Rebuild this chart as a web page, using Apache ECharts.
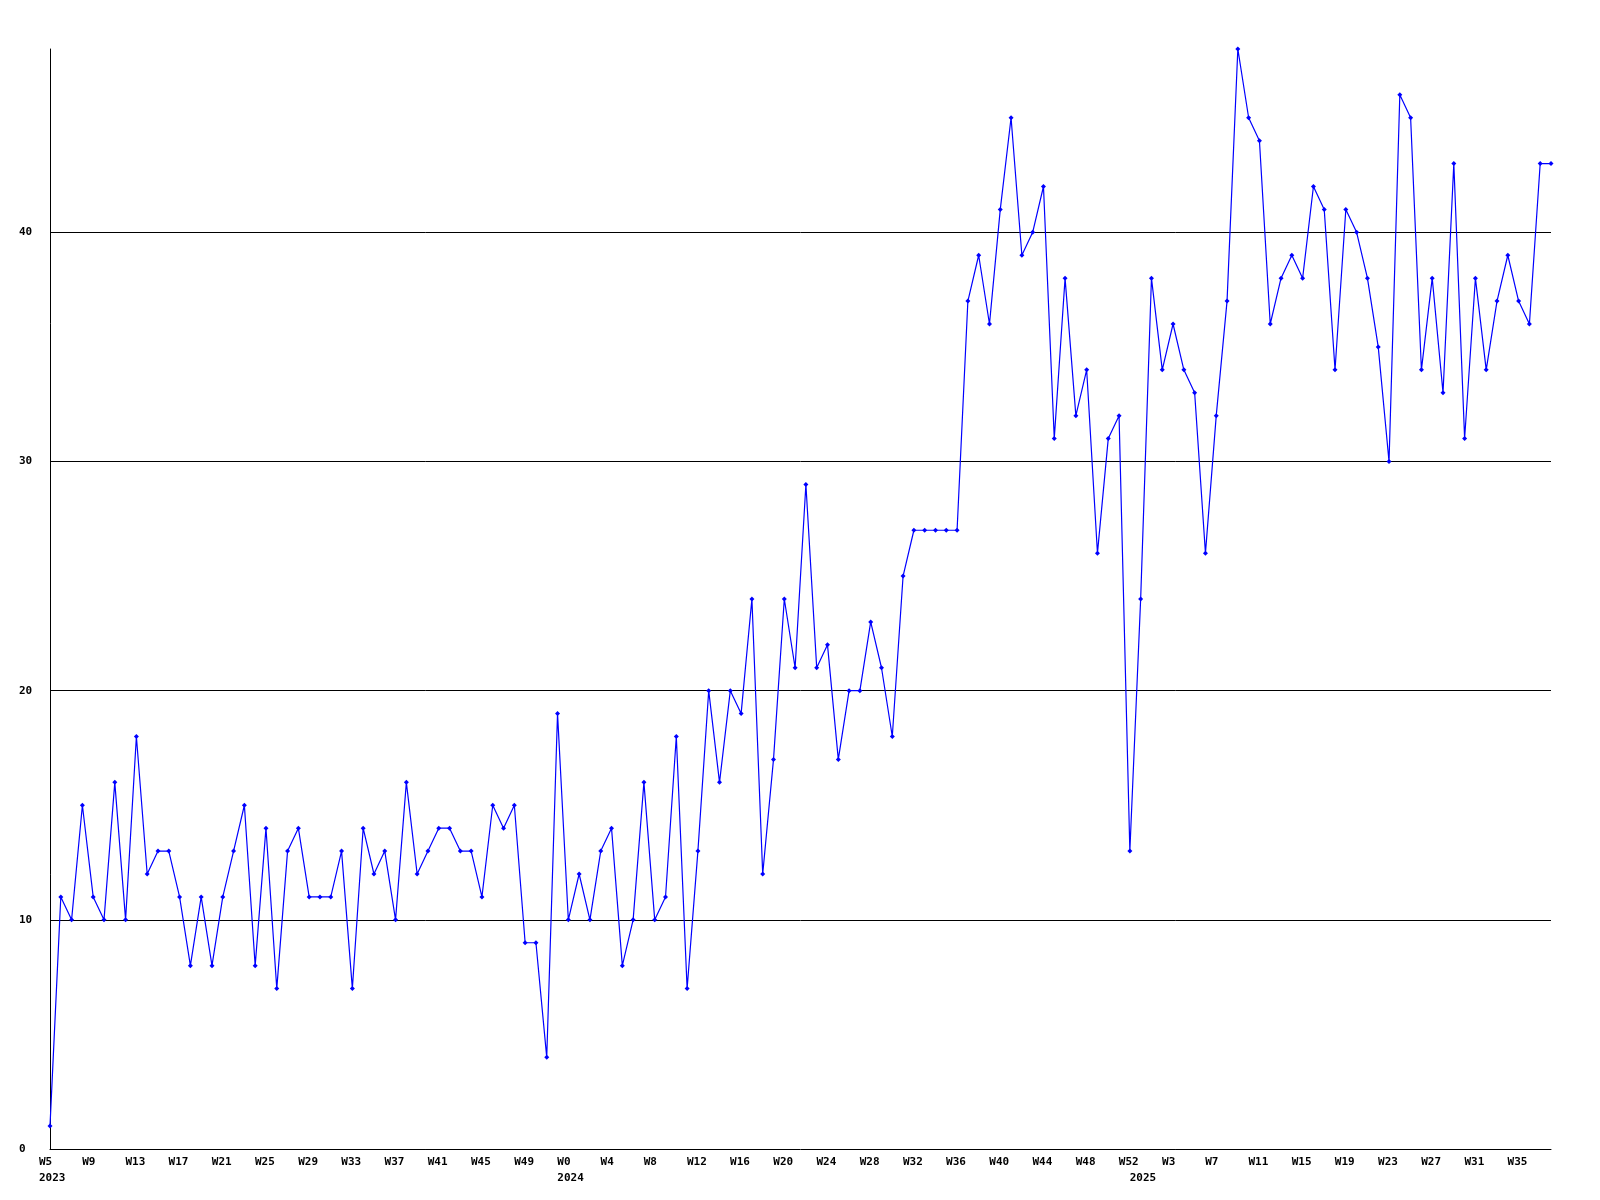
<!DOCTYPE html>
<html>
<head>
<meta charset="utf-8">
<title>weekly chart</title>
<script src="https://cdn.jsdelivr.net/npm/echarts@6/dist/echarts.min.js"></script>
<style>
  html, body { margin: 0; padding: 0; background: #fff; }
  #chart { width: 1600px; height: 1200px; }
</style>
</head>
<body>
<div id="chart"></div>
<script>
// week ranges per year: [year, first week, last week]
var yearWeeks = [
  [2023, 5, 52],
  [2024, 0, 52],
  [2025, 0, 38]
];

// values per week, in order
var values2023 = [1, 11, 10, 15, 11, 10, 16, 10, 18, 12, 13, 13, 11, 8, 11, 8, 11, 13, 15, 8,
  14, 7, 13, 14, 11, 11, 11, 13, 7, 14, 12, 13, 10, 16, 12, 13, 14, 14, 13, 13,
  11, 15, 14, 15, 9, 9, 4, 19];
var values2024 = [10, 12, 10, 13, 14, 8, 10, 16, 10, 11, 18, 7, 13, 20, 16, 20, 19, 24, 12, 17,
  24, 21, 29, 21, 22, 17, 20, 20, 23, 21, 18, 25, 27, 27, 27, 27, 27, 37, 39, 36,
  41, 45, 39, 40, 42, 31, 38, 32, 34, 26, 31, 32, 13];
var values2025 = [24, 38, 34, 36, 34, 33, 26, 32, 37, 48, 45, 44, 36, 38, 39, 38, 42, 41, 34, 41,
  40, 38, 35, 30, 46, 45, 34, 38, 33, 43, 31, 38, 34, 37, 39, 37, 36, 43, 43];

var gridTicks = [10, 20, 30, 40];
var yMax = 48;
var labelEvery = 4;

// build the category list
var categories = [];
var yearStart = {};
yearWeeks.forEach(function (r) {
  yearStart[categories.length] = r[0];
  for (var w = r[1]; w <= r[2]; w++) {
    categories.push("W" + w);
  }
});
var values = values2023.concat(values2024, values2025);

var myChart = echarts.init(document.getElementById("chart"));
var fontFam = "DejaVu Sans Mono";

myChart.setOption({
  backgroundColor: "#ffffff",
  animation: false,
  grid: {
    left: 50,
    right: 49,
    top: 49,
    bottom: 51,
    containLabel: false
  },
  xAxis: {
    type: "category",
    data: categories,
    boundaryGap: false,
    axisLine: { lineStyle: { color: "#000", width: 1 } },
    axisTick: { show: false },
    splitLine: { show: false },
    axisLabel: {
      interval: 0,
      color: "#000",
      fontFamily: fontFam,
      fontWeight: "bold",
      fontSize: 11,
      lineHeight: 16,
      margin: 5,
      align: "left",
      padding: [0, 0, 0, -11],
      formatter: function (val, idx) {
        var s = idx % labelEvery === 0 ? val : "";
        if (yearStart[idx] !== undefined) {
          s += "\n" + yearStart[idx];
        }
        return s;
      }
    }
  },
  yAxis: {
    type: "value",
    min: 0,
    max: yMax,
    interval: 10,
    axisLine: { show: true, lineStyle: { color: "#000", width: 1 } },
    axisTick: { show: false },
    splitLine: { show: false },
    axisLabel: {
      color: "#000",
      fontFamily: fontFam,
      fontWeight: "bold",
      fontSize: 11,
      align: "left",
      margin: 31,
      padding: [4, 0, 0, 0],
      showMaxLabel: false
    }
  },
  series: [
    {
      type: "line",
      data: values,
      symbol: "diamond",
      symbolSize: 5,
      showAllSymbol: true,
      lineStyle: { color: "#0000ff", width: 1.2 },
      itemStyle: { color: "#0000ff" },
      z: 3,
      markLine: {
        silent: true,
        symbol: "none",
        label: { show: false },
        lineStyle: { color: "#000", width: 1, type: "solid" },
        data: gridTicks.map(function (t) { return { yAxis: t }; }),
        z: 1
      }
    }
  ]
});
</script>
</body>
</html>
